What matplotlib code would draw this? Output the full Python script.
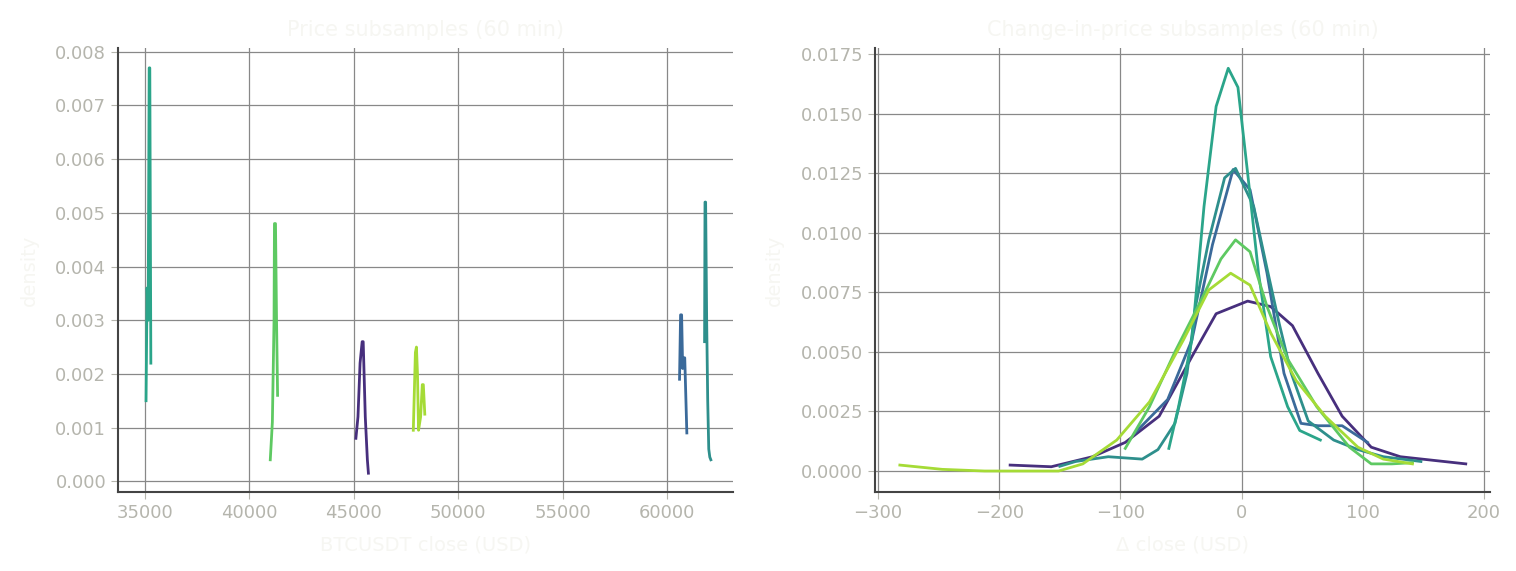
import numpy as np
import matplotlib.pyplot as plt

colors = ['#472f7d', '#3b6a9a', '#2e8f8c', '#2ba58a', '#5ec962', '#a5db36']

# left panel: price densities (x, y) per subsample
price_x = [
    [45100, 45200, 45300, 45400, 45450, 45550, 45650, 45700],
    [60600, 60650, 60700, 60750, 60800, 60850, 60950],
    [61800, 61820, 61850, 61900, 61950, 62000, 62050, 62100],
    [35050, 35100, 35150, 35200, 35230, 35280],
    [41000, 41100, 41180, 41200, 41250, 41300, 41350],
    [47850, 47950, 48000, 48050, 48100, 48200, 48280, 48330, 48400],
]
price_y = [
    [0.0008, 0.0012, 0.0022, 0.0026, 0.0026, 0.0012, 0.0004, 0.00015],
    [0.0019, 0.0031, 0.0031, 0.0021, 0.0023, 0.0023, 0.0009],
    [0.0026, 0.0052, 0.0052, 0.0030, 0.0015, 0.0006, 0.00045, 0.0004],
    [0.0015, 0.0036, 0.0030, 0.0077, 0.0077, 0.0022],
    [0.0004, 0.0011, 0.0030, 0.0048, 0.0048, 0.0030, 0.0016],
    [0.00095, 0.0024, 0.0025, 0.0020, 0.00095, 0.0012, 0.0018, 0.0018, 0.00125],
]

# right panel: change-in-price densities
chg_x = [
    [-191, -157, -123, -96, -68, -41, -21, 5, 24, 42, 63, 83, 107, 131, 185],
    [-88, -61, -41, -24, -7, 7, 21, 35, 49, 63, 83, 104],
    [-150, -137, -110, -82, -69, -55, -45, -38, -27, -14, -5, 10, 21, 31, 41, 55, 76, 96, 117, 148],
    [-60, -52, -41, -31, -21, -11, -3, 5, 14, 24, 38, 48, 65],
    [-96, -76, -55, -34, -17, -5, 7, 21, 38, 62, 89, 107, 124, 141],
    [-282, -247, -212, -151, -131, -103, -76, -48, -27, -9, 7, 24, 45, 69, 96, 117, 141],
]
chg_y = [
    [0.00025, 0.00018, 0.0006, 0.0012, 0.0023, 0.0048, 0.0066, 0.00713, 0.0069, 0.0061, 0.0041, 0.0023, 0.001, 0.0006, 0.0003],
    [0.0016, 0.003, 0.0055, 0.0095, 0.01265, 0.0118, 0.0083, 0.0041, 0.002, 0.0019, 0.0019, 0.0012],
    [0.0002, 0.0004, 0.0006, 0.0005, 0.0009, 0.002, 0.0041, 0.0069, 0.0097, 0.0123, 0.0127, 0.0111, 0.0085, 0.0062, 0.0041, 0.0021, 0.0013, 0.0009, 0.0006, 0.0004],
    [0.00095, 0.0027, 0.0055, 0.0111, 0.0153, 0.0169, 0.0161, 0.0125, 0.0083, 0.0048, 0.0027, 0.0017, 0.0013],
    [0.00095, 0.0027, 0.005, 0.0071, 0.0089, 0.0097, 0.0092, 0.0069, 0.0047, 0.0027, 0.001, 0.0003, 0.0003, 0.00035],
    [0.00025, 0.00007, 0.0, 0.0, 0.0003, 0.0013, 0.0029, 0.0055, 0.0076, 0.0083, 0.0078, 0.0058, 0.0038, 0.0023, 0.001, 0.0005, 0.0003],
]

tick_col = '#b5b5ad'
faint = '#f6f6f2'

fig = plt.figure(figsize=(15.16, 5.71), dpi=100)
ax1 = fig.add_axes([118/1516, 1 - 492/571, 615/1516, 444/571])
ax2 = fig.add_axes([875/1516, 1 - 492/571, 615/1516, 444/571])

for xs, ys, c in zip(price_x, price_y, colors):
    ax1.plot(xs, ys, color=c, lw=2)
for xs, ys, c in zip(chg_x, chg_y, colors):
    ax2.plot(xs, ys, color=c, lw=2)

ax1.set_xlim(33707, 63161)
ax1.set_ylim(-0.0002, 0.00807)
ax1.set_yticks(np.arange(0, 0.0081, 0.001))
ax1.set_yticklabels([f'{v:.3f}' for v in np.arange(0, 0.0081, 0.001)])
ax2.set_xlim(-302.5, 205)
ax2.set_ylim(-0.00088, 0.01775)
ax2.set_yticks(np.arange(0, 0.0176, 0.0025))
ax2.set_yticklabels([f'{v:.4f}' for v in np.arange(0, 0.0176, 0.0025)])
ax2.set_xticks([-300, -200, -100, 0, 100, 200])
ax2.set_xticklabels(['\u2212300', '\u2212200', '\u2212100', '0', '100', '200'])

for ax, title, xl in [(ax1, 'Price subsamples (60 min)', 'BTCUSDT close (USD)'),
                      (ax2, 'Change-in-price subsamples (60 min)', '\u0394 close (USD)')]:
    ax.grid(color='#888888', lw=0.9)
    ax.set_axisbelow(True)
    for s in ['top', 'right']:
        ax.spines[s].set_visible(False)
    for s in ['left', 'bottom']:
        ax.spines[s].set_color('#444444')
        ax.spines[s].set_linewidth(1.5)
    ax.tick_params(colors=tick_col, labelsize=13, length=5)
    ax.set_title(title, color=faint, fontsize=15, pad=9)
    ax.set_xlabel(xl, color=faint, fontsize=14, labelpad=10)
    ax.set_ylabel('density', color=faint, fontsize=14, labelpad=12)

fig.savefig('out.png', dpi=100)
